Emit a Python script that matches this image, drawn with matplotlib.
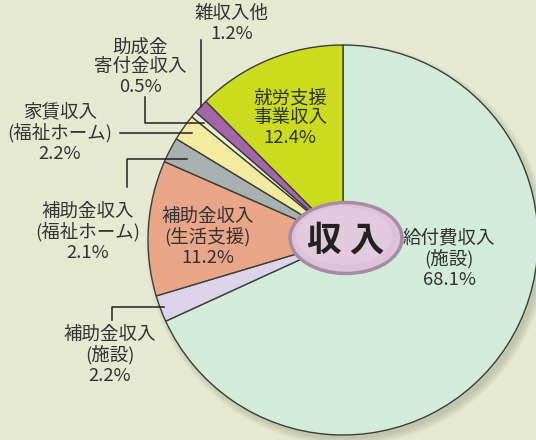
import numpy as np
import matplotlib.pyplot as plt
from matplotlib.patches import Ellipse, Circle

plt.rcParams['font.family'] = ['Noto Sans CJK JP', 'DejaVu Sans']

# data (clockwise from 12 o'clock)
labels = ["給付費収入\n(施設)", "補助金収入\n(施設)", "補助金収入\n(生活支援)",
          "補助金収入\n(福祉ホーム)", "家賃収入\n(福祉ホーム)", "助成金\n寄付金収入",
          "雑収入他", "就労支援\n事業収入"]
values = [68.1, 2.2, 11.2, 2.1, 2.2, 0.5, 1.2, 12.4]
colors = ["#d3ecd9", "#dcd2ea", "#e9a588", "#a9b1b0", "#f3eba0", "#e8f0d8", "#a466a6", "#cbdc1e"]

W, H = 536, 440
cx, cy, R = 343, 440 - 240, 195

fig = plt.figure(figsize=(W / 100, H / 100), dpi=100)
fig.patch.set_facecolor("#e6e9d2")
ax = fig.add_axes([0, 0, 1, 1])

# soft shadow
for i in range(8):
    ax.add_patch(Circle((cx + 4, cy - 5), R + 6 - i, color="#8a8f70", alpha=0.05, lw=0, zorder=0))

wedges, _ = ax.pie(values, colors=colors, startangle=90, counterclock=False,
                   center=(cx, cy), radius=R, frame=True,
                   wedgeprops=dict(edgecolor="#3a3f3a", linewidth=1.0))
ax.set_xlim(0, W)
ax.set_ylim(0, H)
ax.set_aspect("equal")
ax.axis("off")

tc = "#333333"
fs = 13.3
ls = 1.12

def px(x, y):
    return x, H - y

def anchor(i, rf):
    w = wedges[i]
    a = np.deg2rad((w.theta1 + w.theta2) / 2)
    return cx + rf * R * np.cos(a), cy + rf * R * np.sin(a)

def pct(v):
    return f"{v:.1f}%"

# labels inside slices
inside = {0: (449, 259), 2: (208, 237), 7: (290, 118)}
for i, (x, y) in inside.items():
    ax.text(*px(x, y), labels[i] + "\n" + pct(values[i]), ha="center", va="center",
            fontsize=fs, color=tc, linespacing=ls, zorder=5)

# outside labels: position, anchor radius factor, elbow point
outside = {
    1: ((110, 355), 0.98, (112, 320)),
    3: ((88, 232), 0.9, (127, 187)),
    4: ((60, 133), 0.95, None),
    5: ((140, 67), 0.93, (145, 97)),
    6: ((232, 24), 1.0, None),
}
for i, ((x, y), rf, elbow) in outside.items():
    ax.text(*px(x, y), labels[i] + "\n" + pct(values[i]), ha="center", va="center",
            fontsize=fs, color=tc, linespacing=ls, zorder=5)
    ax_, ay_ = anchor(i, rf)
    if i == 6:
        xs, ys = [ax_, ax_], [ay_, H - 40]
    elif i == 4:
        xs, ys = [ax_, 120], [ay_, ay_]
    else:
        ex, ey = px(*elbow)
        xs, ys = [ax_, ex, ex], [ay_, ay_, ey]
    ax.plot(xs, ys, color="#222222", lw=1.1, zorder=4)

# center badge
ax.add_patch(Ellipse(px(346, 238), 112, 71, facecolor="#dcc1d7", edgecolor="#a88ba3", lw=2.5, zorder=6))
ax.add_patch(Ellipse(px(344, 236), 96, 58, facecolor="#e2c9dd", edgecolor="none", zorder=6))
ax.text(*px(346, 240), "収 入", ha="center", va="center", fontsize=25, fontweight="bold",
        color="#222222", zorder=7)

fig.savefig("out.png", dpi=100, facecolor=fig.get_facecolor())
